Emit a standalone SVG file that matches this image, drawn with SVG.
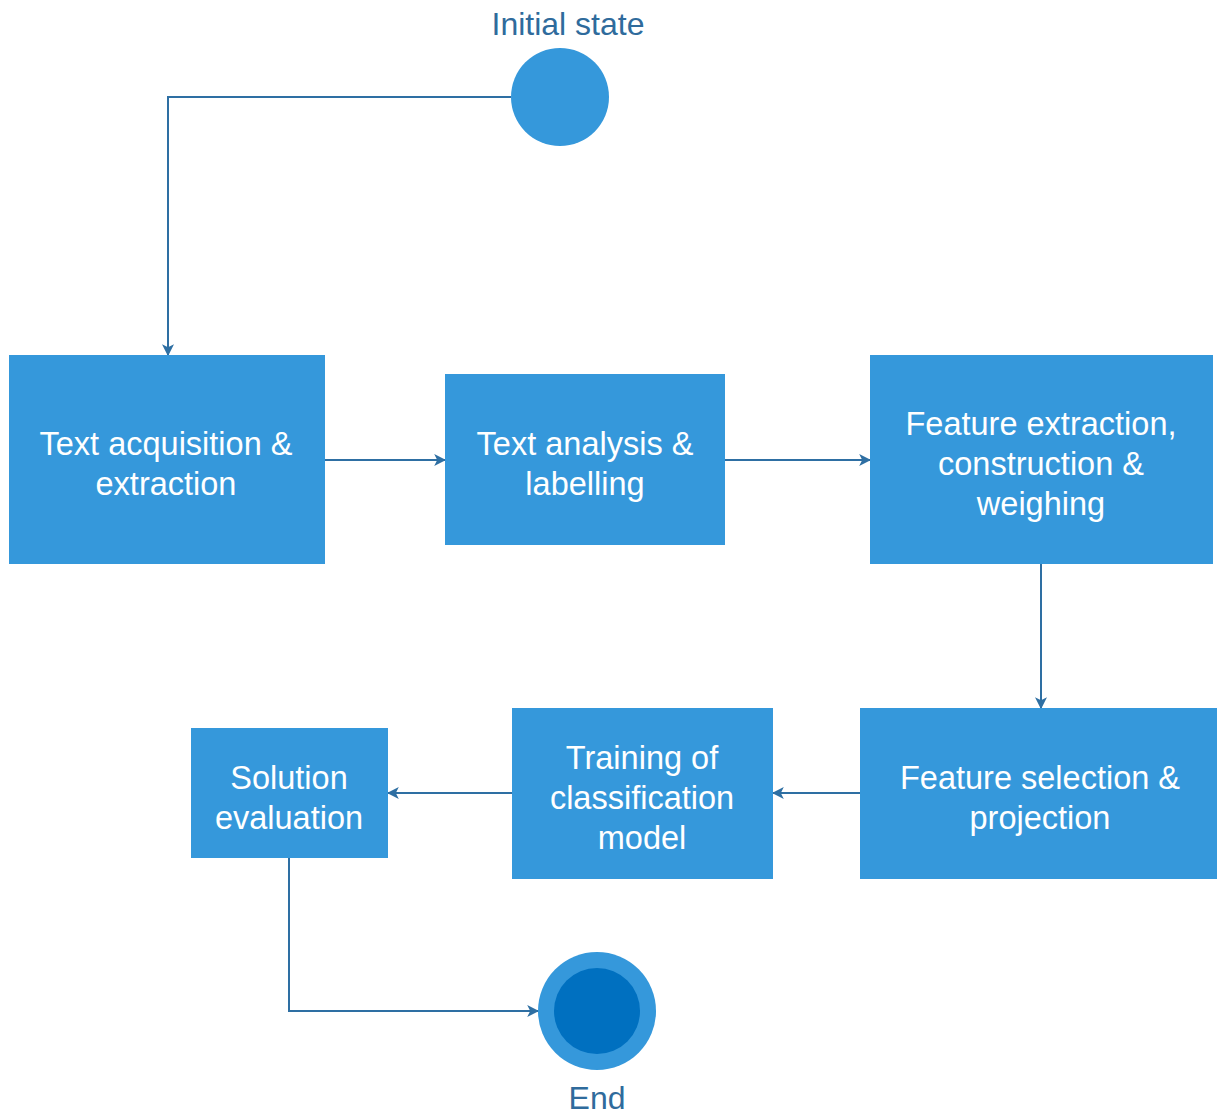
<svg xmlns="http://www.w3.org/2000/svg" width="1217" height="1115" viewBox="0 0 1217 1115">
<defs>
<style>
.box{fill:#3598db;}
.bt{font-family:"Liberation Sans",Arial,sans-serif;font-size:32.5px;fill:#ffffff;text-anchor:middle;}
.lbl{font-family:"Liberation Sans",Arial,sans-serif;font-size:32px;fill:#2f6b9c;text-anchor:middle;}
.conn{fill:none;stroke:#2e6fa3;stroke-width:2;marker-end:url(#ah);}
</style>
<marker id="ah" viewBox="0 0 10 10" refX="9" refY="5" markerWidth="12" markerHeight="12" markerUnits="userSpaceOnUse" orient="auto">
<path d="M0,0 L10,5 L0,10 L2.5,5 Z" fill="#2e6fa3"/>
</marker>
</defs>
<rect width="1217" height="1115" fill="#ffffff"/>
<g id="connectors">
<path class="conn" d="M511,97 H168 V355"/>
<path class="conn" d="M325,460 H445"/>
<path class="conn" d="M725,460 H870"/>
<path class="conn" d="M1041,564 V708"/>
<path class="conn" d="M860,793 H773"/>
<path class="conn" d="M512,793 H388"/>
<path class="conn" d="M289,858 V1011 H538"/>
</g>
<g id="initial">
<circle cx="560" cy="97" r="49" fill="#3598db"/>
<text class="lbl" x="568" y="35">Initial state</text>
</g>
<g id="n1">
<rect class="box" x="9" y="355" width="316" height="209"/>
<text class="bt" x="166" y="455">Text acquisition &amp;</text>
<text class="bt" x="166" y="495">extraction</text>
</g>
<g id="n2">
<rect class="box" x="445" y="374" width="280" height="171"/>
<text class="bt" x="585" y="455">Text analysis &amp;</text>
<text class="bt" x="585" y="495">labelling</text>
</g>
<g id="n3">
<rect class="box" x="870" y="355" width="343" height="209"/>
<text class="bt" x="1041" y="435">Feature extraction,</text>
<text class="bt" x="1041" y="475">construction &amp;</text>
<text class="bt" x="1041" y="515">weighing</text>
</g>
<g id="n4">
<rect class="box" x="860" y="708" width="357" height="171"/>
<text class="bt" x="1040" y="789">Feature selection &amp;</text>
<text class="bt" x="1040" y="829">projection</text>
</g>
<g id="n5">
<rect class="box" x="512" y="708" width="261" height="171"/>
<text class="bt" x="642" y="769">Training of</text>
<text class="bt" x="642" y="809">classification</text>
<text class="bt" x="642" y="849">model</text>
</g>
<g id="n6">
<rect class="box" x="191" y="728" width="197" height="130"/>
<text class="bt" x="289" y="789">Solution</text>
<text class="bt" x="289" y="829">evaluation</text>
</g>
<g id="end">
<circle cx="597" cy="1011" r="59" fill="#3598db"/>
<circle cx="597" cy="1011" r="43" fill="#0070c0"/>
<text class="lbl" x="597" y="1109">End</text>
</g>
</svg>
